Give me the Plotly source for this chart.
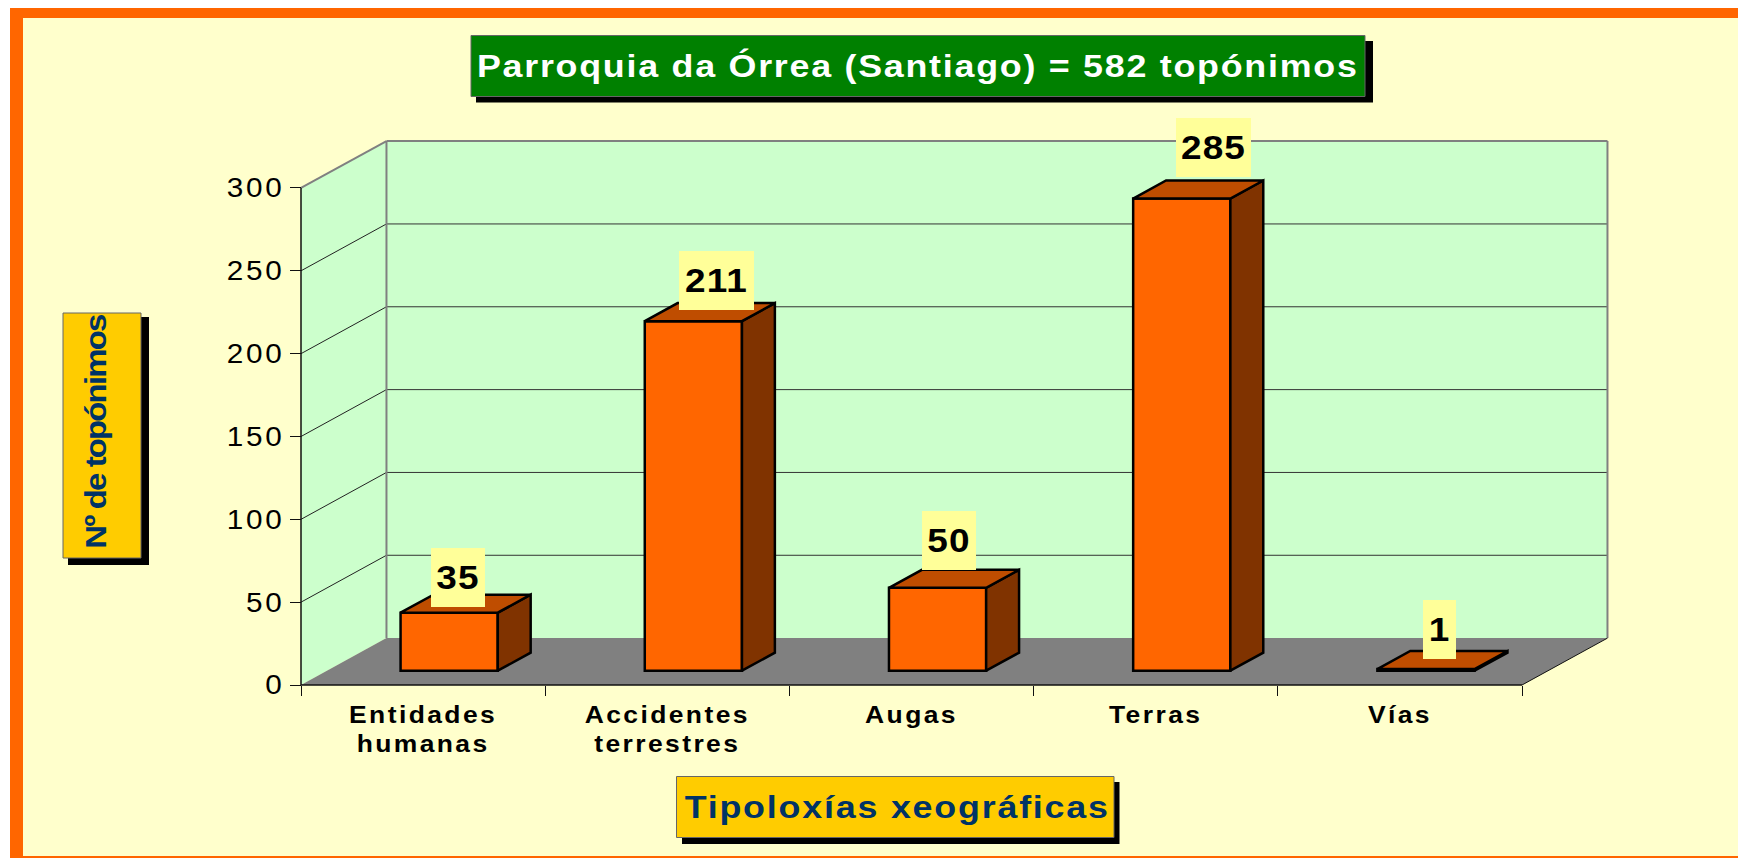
import plotly.graph_objects as go

# ---- data
CATEGORIES = ["Entidades<br>humanas", "Accidentes<br>terrestres", "Augas", "Terras", "Vías"]
VALUES = [35, 211, 50, 285, 1]
Y_TICKS = [0, 50, 100, 150, 200, 250, 300]
TITLE = "Parroquia da Órrea (Santiago) = 582 topónimos"
X_TITLE = "Tipoloxías xeográficas"
Y_TITLE = "Nº de topónimos"

# ---- layout constants
W, H = 1738, 858
X0_PX, CAT_PX = 301.0, 244.2   # left of axis, width of one category
Y0_PX, UNIT_PX = 685.0, 1.6567  # zero line, pixels per unit
DEPTH_X, DEPTH_Y = 0.350, 28.3  # whole depth of the box, in axis units
BAR_D0, BAR_D1 = 0.305, 0.69    # bar front / back as share of the depth
BAR_W = 0.398
LABEL_XSHIFT = [35, 49, 37, 57.5, 39.5]
LABEL_YSHIFT = [20, 25.4, 32, 35.8, 24.3]
LABEL_W = [54, 75, 54, 75, 33]
LABEL_H = 59

ORANGE, TOP, SIDE = "#FF6600", "#BF4D00", "#803300"
PAPER, WALL, FLOOR = "#FFFFCC", "#CCFFCC", "#808080"
LABEL_BG, NAVY, GOLD, GREEN = "#FFFF99", "#003366", "#FFCC00", "#008000"
FONT = "Liberation Sans"
N = len(CATEGORIES)
YMAX = Y_TICKS[-1]


def fx(v):
    return v / W


def fy(v):
    return 1 - v / H


def rect_px(x0, y0, x1, y1, fill, line=None, lw=1):
    return dict(type="rect", xref="paper", yref="paper", x0=fx(x0), x1=fx(x1), y0=fy(y1), y1=fy(y0),
                fillcolor=fill, line=dict(color=line or fill, width=lw if line else 0), layer="below")


def poly(points, fill):
    path = "M" + " L".join(f"{a},{b}" for a, b in points) + " Z"
    return dict(type="path", xref="x", yref="y", path=path, fillcolor=fill, line=dict(width=0), layer="below")


def seg(a, b, color, width):
    return dict(type="line", xref="x", yref="y", x0=a[0], y0=a[1], x1=b[0], y1=b[1],
                line=dict(color=color, width=width), layer="below")


def back(x, y):
    return (x + DEPTH_X, y + DEPTH_Y)


shapes = [
    rect_px(10, 8, W, H, ORANGE),
    rect_px(23, 18, W, 856, PAPER),
    poly([(0, 0), (0, YMAX), back(0, YMAX), back(0, 0)], WALL),
    poly([back(0, 0), back(0, YMAX), back(N, YMAX), back(N, 0)], WALL),
]
for t in Y_TICKS[1:-1]:
    shapes.append(seg((0, t), back(0, t), "#222222", 1))
    shapes.append(seg(back(0, t), back(N, t), "#333333", 1))
shapes += [
    poly([(0, 0), back(0, 0), back(N, 0), (N, 0)], FLOOR),
    seg((0, YMAX), back(0, YMAX), FLOOR, 2),
    seg(back(0, YMAX), back(N, YMAX), FLOOR, 2),
    seg(back(0, 0), back(0, YMAX), FLOOR, 2),
    seg(back(N, 0), back(N, YMAX), FLOOR, 2),
    seg((0, 0), (0, YMAX), "#111111", 1.5),
    seg((0, 0), (N, 0), "#111111", 1.5),
    seg((N, 0), back(N, 0), "#111111", 1),
    # title boxes
    rect_px(476, 41, 1373, 102.5, "#000000"),
    rect_px(471, 35.5, 1365, 96.5, GREEN, "#666666", 1),
    rect_px(682, 782, 1119.5, 844, "#000000"),
    rect_px(676.5, 776.5, 1114, 837.5, GOLD, "#666666", 1),
    rect_px(68, 317, 149, 565, "#000000"),
    rect_px(63, 313, 141, 558, GOLD, "#666666", 1),
]

centers = [i + 0.5 for i in range(N)]
bar_x = [c + BAR_D0 * DEPTH_X for c in centers]
bar_base = BAR_D0 * DEPTH_Y
dx = (BAR_D1 - BAR_D0) * DEPTH_X
dy = (BAR_D1 - BAR_D0) * DEPTH_Y

top_x, top_y, side_x, side_y = [], [], [], []
for bx, v in zip(bar_x, VALUES):
    l, r, z = bx - BAR_W / 2, bx + BAR_W / 2, bar_base + v
    top_x += [l, r, r + dx, l + dx, l, None]
    top_y += [z, z, z + dy, z + dy, z, None]
    side_x += [r, r + dx, r + dx, r, r, None]
    side_y += [bar_base, bar_base + dy, z + dy, z, bar_base, None]

fig = go.Figure()
fig.add_bar(x=bar_x, y=VALUES, base=bar_base, width=BAR_W,
            marker=dict(color=ORANGE, line=dict(color="#000000", width=2.5)), hoverinfo="skip")
fig.add_scatter(x=side_x, y=side_y, mode="lines", fill="toself", fillcolor=SIDE,
                line=dict(color="#000000", width=2.5), hoverinfo="skip")
fig.add_scatter(x=top_x, y=top_y, mode="lines", fill="toself", fillcolor=TOP,
                line=dict(color="#000000", width=2.5), hoverinfo="skip")

annotations = [
    dict(x=fx(918), y=fy(66), xref="paper", yref="paper", text=f"<b>{TITLE}</b>", showarrow=False,
         xanchor="center", yanchor="middle", font=dict(family=FONT, size=32, color="#FFFFFF")),
    dict(x=fx(897.5), y=fy(807), xref="paper", yref="paper", text=f"<b>{X_TITLE}</b>", showarrow=False,
         xanchor="center", yanchor="middle", font=dict(family=FONT, size=32, color=NAVY)),
    dict(x=fx(95), y=fy(432), xref="paper", yref="paper", text=f"<b>{Y_TITLE}</b>", showarrow=False,
         xanchor="center", yanchor="middle", textangle=-90, font=dict(family=FONT, size=30, color=NAVY)),
]
for c, v, xs, ys, w in zip(centers, VALUES, LABEL_XSHIFT, LABEL_YSHIFT, LABEL_W):
    annotations.append(dict(x=c, y=v, xref="x", yref="y", text=f"<b>{v}</b>", showarrow=False,
                            xanchor="center", yanchor="bottom", xshift=xs, yshift=ys, width=w, height=LABEL_H,
                            align="center", valign="middle", bgcolor=LABEL_BG, borderpad=0, borderwidth=0,
                            font=dict(family=FONT, size=33, color="#000000")))

fig.update_layout(
    width=W, height=H, margin=dict(l=0, r=0, t=0, b=0), autosize=False,
    paper_bgcolor="#FFFFFF", plot_bgcolor="rgba(0,0,0,0)", showlegend=False, barmode="overlay",
    shapes=shapes, annotations=annotations,
    xaxis=dict(range=[-X0_PX / CAT_PX, (W - X0_PX) / CAT_PX], anchor="free", position=1 - Y0_PX / H,
               tickmode="array", tickvals=centers, ticktext=CATEGORIES, tickangle=0, ticks="outside", ticklen=0,
               minor=dict(tickmode="array", tickvals=list(range(N + 1)), ticks="outside", ticklen=10,
                          tickcolor="#111111", tickwidth=1, showgrid=False),
               showgrid=False, zeroline=False, showline=False, fixedrange=True, ticklabelstandoff=9,
               tickfont=dict(family=FONT, size=23, color="#000000", weight="bold")),
    yaxis=dict(range=[(Y0_PX - H) / UNIT_PX, Y0_PX / UNIT_PX], anchor="free", position=X0_PX / W,
               tickmode="array", tickvals=Y_TICKS, ticks="outside", ticklen=11, tickcolor="#111111", tickwidth=1,
               showgrid=False, zeroline=False, showline=False, fixedrange=True,
               tickfont=dict(family=FONT, size=27, color="#000000")),
)

post = """
document.documentElement.style.overflow='hidden';
document.body.style.margin='0';
var gd=document.getElementById('{plot_id}');
function stretch(t,k,s){
  var x=+t.getAttribute('x')||0;
  t.style.letterSpacing=s+'px';
  t.setAttribute('transform',(t.getAttribute('transform')||'')+' translate('+x+',0) scale('+k+',1) translate('+(-x)+',0)');
}
gd.querySelectorAll('.xtick text').forEach(function(t){stretch(t,1.15,2.1);});
gd.querySelectorAll('.ytick text').forEach(function(t){stretch(t,1.1,2.5);});
gd.querySelectorAll('.annotation-text').forEach(function(t){
  var s=t.textContent;
  if(s.indexOf('Parroquia')===0){stretch(t,1.12,1.55);}
  else if(s.indexOf('Tipolox')===0){stretch(t,1.12,1.6);}
  else if(/^[0-9]+$/.test(s)){stretch(t,1.12,1);}
  else {stretch(t,1.1,-1.7);}
});
"""
fig.write_html("out.html", post_script=post, config=dict(displayModeBar=False))
